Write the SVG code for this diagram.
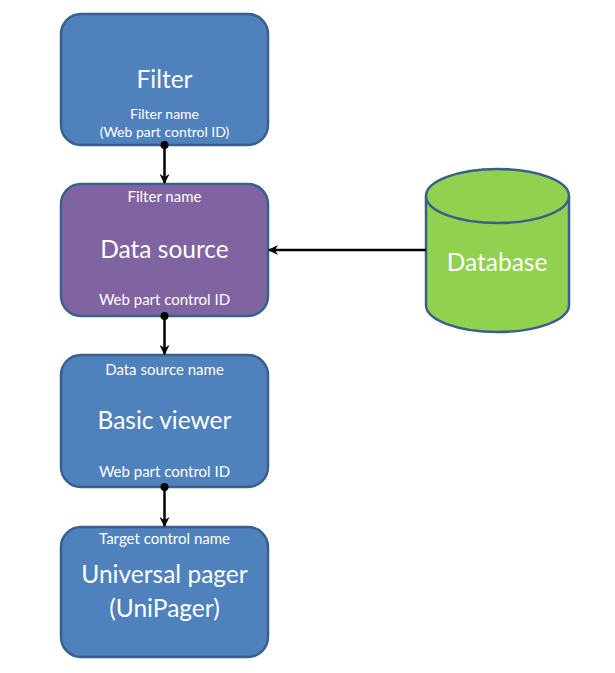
<svg xmlns="http://www.w3.org/2000/svg" width="615" height="673" viewBox="0 0 615 673">
<defs>
<style>
.box{stroke:#3A5F8B;stroke-width:2.5}
.blue{fill:#4F81BD}
.purple{fill:#8064A2}
.green{fill:#92D050}
text{font-family:Lato,"Open Sans","Liberation Sans",sans-serif;fill:#FFFFFF;text-anchor:middle}
.big{font-size:24.5px}
.small{font-size:15px}
.pair{font-size:14px}
.conn{stroke:#000;stroke-width:2.5;fill:none}
</style>
<marker id="arr" viewBox="0 0 10 10" refX="9" refY="5" markerWidth="4" markerHeight="4" orient="auto" markerUnits="strokeWidth">
<path d="M0,0 L10,5 L0,10 L3,5 Z" fill="#000"/>
</marker>
</defs>
<rect width="615" height="673" fill="#FFFFFF"/>
<g id="filter">
<rect class="box blue" x="61" y="14" width="207" height="131" rx="20"/>
<text class="big" x="164.5" y="88">Filter</text>
<text class="pair" x="164.5" y="119">Filter name</text>
<text class="pair" x="164.5" y="136.5">(Web part control ID)</text>
</g>
<g id="datasource">
<rect class="box purple" x="61" y="184" width="207" height="132" rx="20"/>
<text class="small" x="164.5" y="202">Filter name</text>
<text class="big" x="164.5" y="258">Data source</text>
<text class="small" x="164.5" y="305">Web part control ID</text>
</g>
<g id="basicviewer">
<rect class="box blue" x="61" y="355" width="207" height="132" rx="20"/>
<text class="small" x="164.5" y="375">Data source name</text>
<text class="big" x="164.5" y="429">Basic viewer</text>
<text class="small" x="164.5" y="477">Web part control ID</text>
</g>
<g id="unipager">
<rect class="box blue" x="61" y="527" width="207" height="130" rx="20"/>
<text class="small" x="164.5" y="544">Target control name</text>
<text class="big" x="164.5" y="583">Universal pager</text>
<text class="big" x="164.5" y="617">(UniPager)</text>
</g>
<g id="database">
<path class="box green" d="M426,196 A71.5,27 0 0 1 569,196 L569,305 A71.5,27 0 0 1 426,305 Z"/>
<path class="box" fill="none" d="M426,196 A71.5,27 0 0 0 569,196"/>
<text class="big" x="497" y="271">Database</text>
</g>
<g id="connectors">
<line class="conn" x1="164.5" y1="145" x2="164.5" y2="183" marker-end="url(#arr)"/>
<circle cx="164.5" cy="145" r="4" fill="#000"/>
<line class="conn" x1="164.5" y1="316" x2="164.5" y2="354" marker-end="url(#arr)"/>
<circle cx="164.5" cy="316" r="4" fill="#000"/>
<line class="conn" x1="164.5" y1="487" x2="164.5" y2="526" marker-end="url(#arr)"/>
<circle cx="164.5" cy="487" r="4" fill="#000"/>
<line class="conn" x1="426" y1="250" x2="269" y2="250" marker-end="url(#arr)"/>
</g>
</svg>
